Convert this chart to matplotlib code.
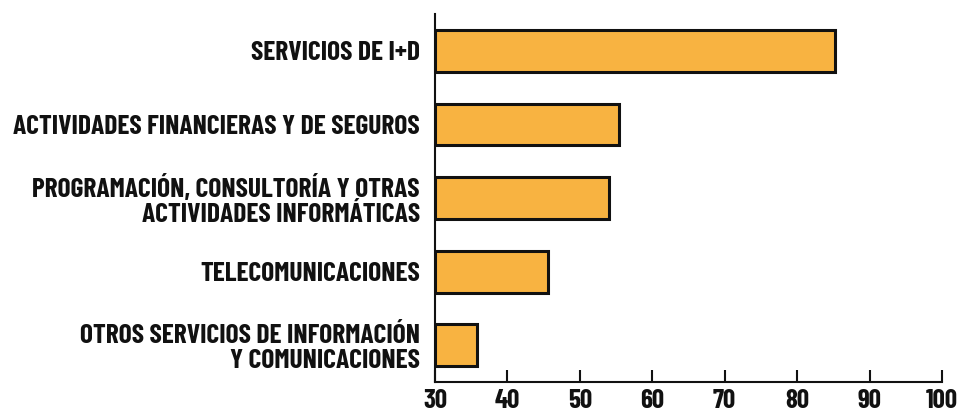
import matplotlib
matplotlib.use("Agg")
import matplotlib.pyplot as plt

categories = [
    "SERVICIOS DE I+D",
    "ACTIVIDADES FINANCIERAS Y DE SEGUROS",
    "PROGRAMACIÓN, CONSULTORÍA Y OTRAS\nACTIVIDADES INFORMÁTICAS",
    "TELECOMUNICACIONES",
    "OTROS SERVICIOS DE INFORMACIÓN\nY COMUNICACIONES",
]
values = [85.2, 55.4, 54.0, 45.6, 35.8]
xticks = [30, 40, 50, 60, 70, 80, 90, 100]

plt.rcParams['font.family'] = ['Barlow Condensed', 'DejaVu Sans']
plt.rcParams['font.weight'] = 700

fig = plt.figure(figsize=(9.66, 4.17), dpi=100)
ax = fig.add_axes([0.4503, 0.0832, 0.9752 - 0.4503, 0.9664 - 0.0832])

base = xticks[0]
ypos = list(range(len(categories)))
ax.barh(ypos, [v - base for v in values], left=base, height=0.57,
        color="#F8B341", edgecolor="#111111", linewidth=2.2)

ax.set_xlim(xticks[0], xticks[-1])
ax.set_ylim(len(categories) - 0.5, -0.5)
ax.set_xticks(xticks)
ax.set_xticklabels([str(t) for t in xticks], fontsize=19.5, fontweight=700)
ax.set_yticks(ypos)
ax.set_yticklabels(categories, fontsize=19.8, fontweight=700, linespacing=1.05)
for lbl in ax.get_yticklabels():
    lbl.set_multialignment("right")

ax.tick_params(axis="x", direction="in", length=9, width=1.5, pad=5, colors="#111111")
ax.tick_params(axis="y", length=0, pad=11, colors="#111111")
for s in ["top", "right"]:
    ax.spines[s].set_visible(False)
for s in ["left", "bottom"]:
    ax.spines[s].set_linewidth(1.5)
    ax.spines[s].set_color("#111111")

fig.savefig("out.png", dpi=100)
